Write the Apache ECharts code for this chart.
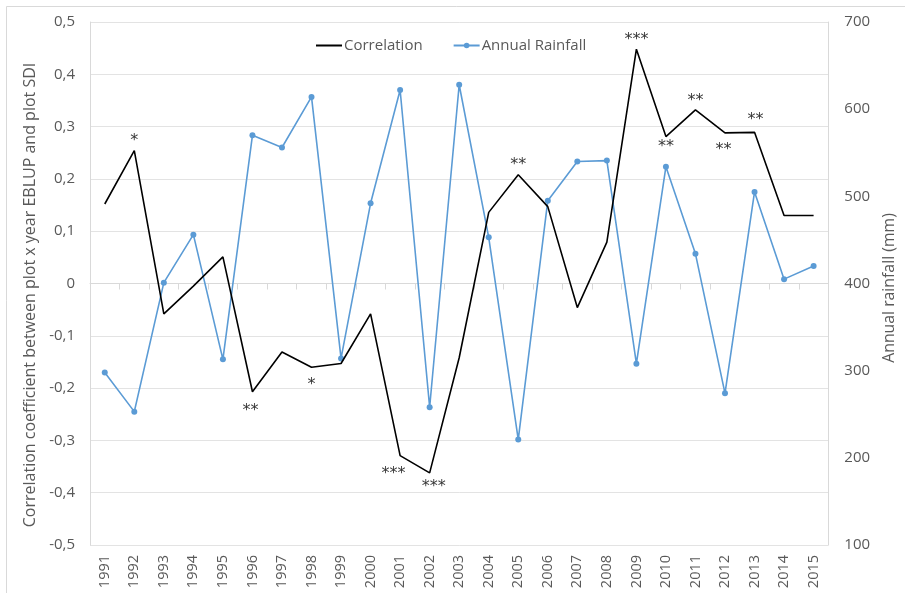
<!DOCTYPE html>
<html>
<head>
<meta charset="utf-8">
<script src="https://cdn.jsdelivr.net/npm/echarts@6/dist/echarts.min.js"></script>
<style>
  html, body { margin: 0; padding: 0; background: #fff; }
  #chart { width: 905px; height: 593px; }
</style>
</head>
<body>
<div id="chart"></div>
<script>
// Years of the study
const years = ['1991','1992','1993','1994','1995','1996','1997','1998','1999','2000',
               '2001','2002','2003','2004','2005','2006','2007','2008','2009','2010',
               '2011','2012','2013','2014','2015'];

// Correlation between plot x year EBLUP and plot SDI
const correlation = [0.152, 0.254, -0.058, -0.005, 0.051, -0.207, -0.131, -0.160, -0.153, -0.058,
                     -0.329, -0.362, -0.142, 0.136, 0.208, 0.147, -0.046, 0.079, 0.448, 0.281,
                     0.332, 0.288, 0.289, 0.130, 0.130];

// Annual rainfall (mm)
const rainfall = [298, 253, 401, 456, 313, 570, 556, 614, 314, 492,
                  622, 258, 628, 453, 221, 495, 540, 541, 308, 534,
                  434, 274, 505, 405, 420];

// Significance of each yearly correlation
const significance = ['', '*', '', '', '', '**', '', '*', '', '',
                      '***', '***', '', '', '**', '', '', '', '***', '**',
                      '**', '**', '**', '', ''];

// Where each significance mark sits relative to its point: [dx, dy] in px
const starOffset = {
  '1992': [0, -13.5], '1996': [-2, 15.5], '1998': [0, 13.5], '2001': [-6.5, 14.7],
  '2002': [4, 10], '2005': [0, -13.5], '2009': [0, -13.5], '2010': [0, 6],
  '2011': [0, -13.5], '2012': [-1.5, 12.7], '2013': [1, -17]
};

const FONT = '"Open Sans", "Noto Sans", sans-serif';
const GREY = '#595959';

const starPoints = [];
years.forEach((y, i) => {
  if (significance[i]) {
    const off = starOffset[y] || [0, -13.5];
    starPoints.push({
      value: [y, correlation[i]],
      label: { formatter: significance[i], offset: [off[0], off[1] + 4] }
    });
  }
});

const fmtCorr = v => Math.abs(v) < 1e-9 ? '0' : v.toFixed(1).replace('.', ',');

const chart = echarts.init(document.getElementById('chart'), null, { renderer: 'canvas' });
chart.setOption({
  animation: false,
  backgroundColor: '#fff',
  textStyle: { fontFamily: FONT },
  graphic: [{
    type: 'rect', silent: true,
    shape: { x: 6.5, y: 6.5, width: 950, height: 650 },
    style: { fill: 'none', stroke: '#d9d9d9', lineWidth: 1 }
  }],
  grid: { left: 90, right: 73, top: 22, bottom: 48, containLabel: false },
  legend: {
    data: [
      // plain line key, no marker
      { name: 'Correlation', itemStyle: { color: 'rgba(0,0,0,0)', opacity: 0 } },
      { name: 'Annual Rainfall' }
    ],
    left: 310, top: 33,
    itemWidth: 26, itemHeight: 7, itemGap: 30,
    lineStyle: { width: 2 },
    textStyle: { fontFamily: FONT, fontSize: 15, color: GREY, padding: [0, 0, 0, -3] }
  },
  xAxis: {
    type: 'category',
    data: years,
    boundaryGap: true,
    axisLine: { lineStyle: { color: '#d9d9d9', width: 1 } },
    axisTick: { show: true, length: 6, lineStyle: { color: '#d9d9d9' } },
    axisLabel: { rotate: 90, margin: 10, fontSize: 14.5, color: GREY, interval: 0 }
  },
  yAxis: [{
    type: 'value',
    min: -0.5, max: 0.5, interval: 0.1,
    name: 'Correlation coefficient between plot x year EBLUP and plot SDI',
    nameLocation: 'middle', nameRotate: 90, nameGap: 52,
    nameTextStyle: { fontSize: 16, color: GREY, fontFamily: FONT, padding: [0, 23, 0, 0] },
    axisLine: { show: true, lineStyle: { color: '#d9d9d9' } },
    axisTick: { show: false },
    axisLabel: { formatter: fmtCorr, fontSize: 15, color: GREY, margin: 15 },
    splitLine: { show: true, lineStyle: { color: '#e3e3e3', width: 1 } }
  }, {
    type: 'value',
    min: 100, max: 700, interval: 100,
    name: 'Annual rainfall (mm)',
    nameLocation: 'middle', nameRotate: 90, nameGap: 48,
    nameTextStyle: { fontSize: 15.8, color: GREY, fontFamily: FONT, padding: [0, 9, 0, 0] },
    axisLine: { show: true, lineStyle: { color: '#d9d9d9' } },
    axisTick: { show: false },
    axisLabel: { fontSize: 15, color: GREY, margin: 16 },
    splitLine: { show: false }
  }],
  series: [{
    name: 'Correlation',
    type: 'line',
    yAxisIndex: 0,
    data: correlation,
    symbol: 'none',
    color: '#000000',
    lineStyle: { color: '#000000', width: 1.6 },
    z: 3
  }, {
    name: 'Annual Rainfall',
    type: 'line',
    yAxisIndex: 1,
    data: rainfall,
    symbol: 'circle',
    symbolSize: 6,
    color: '#5b9bd5',
    itemStyle: { color: '#5b9bd5' },
    lineStyle: { color: '#5b9bd5', width: 1.6 },
    z: 2
  }, {
    name: 'Significance',
    type: 'scatter',
    yAxisIndex: 0,
    data: starPoints,
    symbol: 'circle',
    symbolSize: 1,
    itemStyle: { color: 'rgba(0,0,0,0)' },
    label: {
      show: true, position: 'inside',
      fontFamily: '"DejaVu Sans", sans-serif', fontSize: 16, color: '#000'
    },
    silent: true,
    z: 4
  }]
});
</script>
</body>
</html>
